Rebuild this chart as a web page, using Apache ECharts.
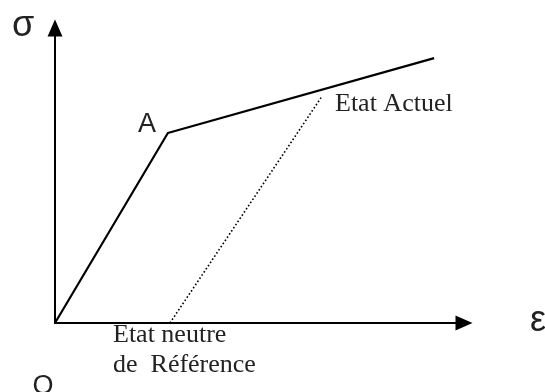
<!DOCTYPE html>
<html>
<head>
<meta charset="utf-8">
<script src="https://cdn.jsdelivr.net/npm/echarts@6/dist/echarts.min.js"></script>
<style>
  html, body { margin: 0; padding: 0; background: #fff; }
  #chart { width: 545px; height: 392px; }
</style>
</head>
<body>
<div id="chart"></div>
<script>
// loading path O -> A -> current state (strain, stress)
const loadEps = [0, 2.76, 9.27];
const loadSig = [0, 6.44, 8.98];
// unloading path: neutral reference state -> current state
const unloadEps = [2.81, 6.53];
const unloadSig = [0, 7.69];

const toPairs = (xs, ys) => xs.map((x, i) => [x, ys[i]]);

const chart = echarts.init(document.getElementById("chart"), null, { renderer: "canvas" });

const sans = "Liberation Sans";
const serif = "Liberation Serif";

const axisLine = {
  lineStyle: { color: "#000", width: 2 },
  symbol: ["none", "triangle"],
  symbolSize: [15, 17],
  symbolOffset: [0, 0],
};

const option = {
  animation: false,
  grid: { left: 55, top: 28, right: 81, bottom: 69, containLabel: false },
  xAxis: {
    type: "value",
    min: 0,
    max: 10,
    axisLine: axisLine,
    axisTick: { show: false },
    axisLabel: { show: false },
    splitLine: { show: false },
  },
  yAxis: {
    type: "value",
    min: 0,
    max: 10,
    axisLine: axisLine,
    axisTick: { show: false },
    axisLabel: { show: false },
    splitLine: { show: false },
  },
  series: [
    {
      type: "line",
      data: toPairs(loadEps, loadSig),
      showSymbol: false,
      lineStyle: { color: "#000", width: 2.2 },
    },
    {
      type: "line",
      data: toPairs(unloadEps, unloadSig),
      showSymbol: false,
      lineStyle: { color: "#000", width: 1.6, type: [1.6, 2.2] },
    },
  ],
  graphic: [
    { type: "text", style: { x: 23, y: 26, text: "σ", font: "36px " + sans, fill: "#222", align: "center", verticalAlign: "middle" } },
    { type: "text", style: { x: 147, y: 125, text: "A", font: "27px " + sans, fill: "#222", align: "center", verticalAlign: "middle" } },
    { type: "text", style: { x: 538, y: 321, text: "ε", font: "36px " + sans, fill: "#222", align: "center", verticalAlign: "middle" } },
    { type: "text", style: { x: 43, y: 387, text: "O", font: "27px " + sans, fill: "#222", align: "center", verticalAlign: "middle" } },
    { type: "text", style: { x: 335, y: 104, text: "Etat Actuel", font: "26px " + serif, fill: "#222", align: "left", verticalAlign: "middle" } },
    { type: "text", style: { x: 113, y: 335, text: "Etat neutre", font: "26px " + serif, fill: "#222", align: "left", verticalAlign: "middle" } },
    { type: "text", style: { x: 113, y: 365, text: "de  Référence", font: "26px " + serif, fill: "#222", align: "left", verticalAlign: "middle" } },
  ],
};

chart.setOption(option);
</script>
</body>
</html>
